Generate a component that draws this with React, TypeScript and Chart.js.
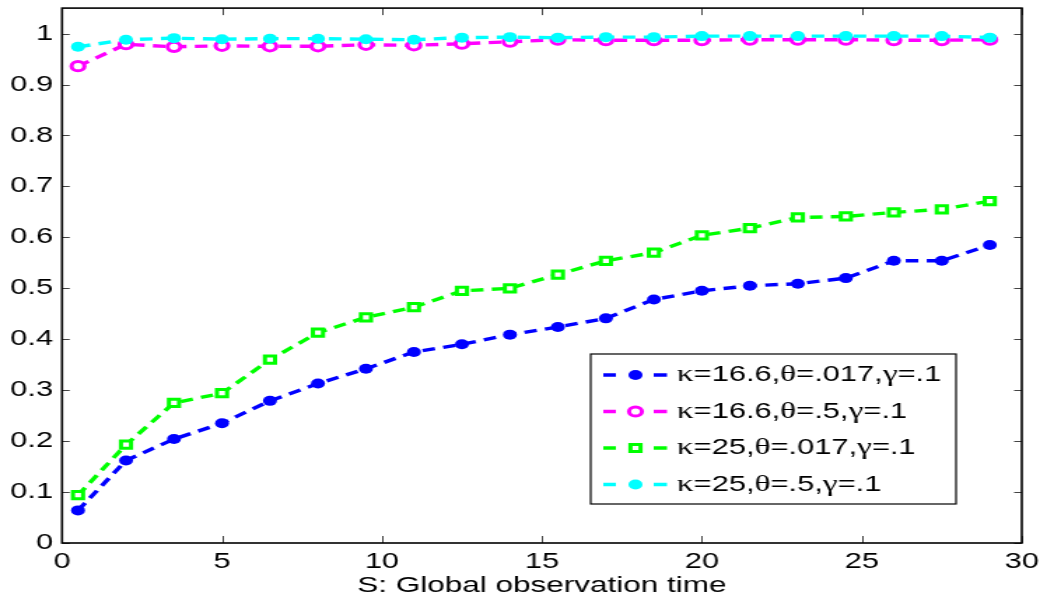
import React, { useEffect, useRef } from 'react';
import { Chart, registerables } from 'chart.js';

Chart.register(...registerables);

// Observation times (S)
const X_VALUES = [0.5, 2, 3.5, 5, 6.5, 8, 9.5, 11, 12.5, 14, 15.5, 17, 18.5, 20, 21.5, 23, 24.5, 26, 27.5, 29];

// κ=16.6, θ=.017, γ=.1
const SERIES_K166_T017 = [0.064, 0.162, 0.204, 0.235, 0.279, 0.313, 0.342, 0.375, 0.39, 0.409, 0.424, 0.441, 0.478, 0.495, 0.505, 0.509, 0.52, 0.554, 0.554, 0.585];
// κ=16.6, θ=.5, γ=.1
const SERIES_K166_T5 = [0.936, 0.979, 0.974, 0.976, 0.975, 0.975, 0.978, 0.977, 0.98, 0.984, 0.988, 0.987, 0.987, 0.987, 0.988, 0.988, 0.988, 0.987, 0.987, 0.988];
// κ=25, θ=.017, γ=.1
const SERIES_K25_T017 = [0.094, 0.193, 0.275, 0.294, 0.36, 0.413, 0.443, 0.463, 0.495, 0.5, 0.527, 0.554, 0.57, 0.604, 0.618, 0.639, 0.641, 0.649, 0.655, 0.671];
// κ=25, θ=.5, γ=.1
const SERIES_K25_T5 = [0.974, 0.988, 0.991, 0.989, 0.99, 0.99, 0.989, 0.988, 0.992, 0.993, 0.992, 0.993, 0.993, 0.995, 0.995, 0.995, 0.995, 0.995, 0.995, 0.992];

const SERIES_LABELS = ['κ=16.6,θ=.017,γ=.1', 'κ=16.6,θ=.5,γ=.1', 'κ=25,θ=.017,γ=.1', 'κ=25,θ=.5,γ=.1'];

const X_TICKS = [0, 5, 10, 15, 20, 25, 30];
const X_TICK_LABELS = ['0', '5', '10', '15', '20', '25', '30'];
const Y_TICKS = [0, 0.1, 0.2, 0.3, 0.4, 0.5, 0.6, 0.7, 0.8, 0.9, 1];
const Y_TICK_LABELS = ['0', '0.1', '0.2', '0.3', '0.4', '0.5', '0.6', '0.7', '0.8', '0.9', '1'];

const X_TITLE = 'S: Global observation time';

// The drawing surface is rendered narrower and stretched horizontally on screen.
const RENDER_W = 748;
const RENDER_H = 599;
const SHOW_W = 1047;
const SHOW_H = 599;

const SANS = '"Liberation Sans", Arial, Helvetica, sans-serif';
const SERIF = '"Liberation Serif", "Times New Roman", serif';

type MarkerKind = 'dot' | 'ring' | 'square';

const STYLES: { color: string; marker: MarkerKind }[] = [
  { color: '#0000ff', marker: 'dot' },
  { color: '#ff00ff', marker: 'ring' },
  { color: '#00ff00', marker: 'square' },
  { color: '#00ffff', marker: 'dot' },
];

const DASH = [9, 6];

function drawMarker(ctx: CanvasRenderingContext2D, kind: MarkerKind, color: string, x: number, y: number) {
  ctx.save();
  ctx.setLineDash([]);
  if (kind === 'dot') {
    ctx.fillStyle = color;
    ctx.beginPath();
    ctx.arc(x, y, 5, 0, Math.PI * 2);
    ctx.fill();
  } else if (kind === 'ring') {
    ctx.strokeStyle = color;
    ctx.lineWidth = 3;
    ctx.fillStyle = '#fff';
    ctx.beginPath();
    ctx.arc(x, y, 4.6, 0, Math.PI * 2);
    ctx.fill();
    ctx.stroke();
  } else {
    ctx.strokeStyle = color;
    ctx.lineWidth = 3;
    ctx.fillStyle = '#fff';
    ctx.beginPath();
    ctx.rect(x - 3.6, y - 3.6, 7.2, 7.2);
    ctx.fill();
    ctx.stroke();
  }
  ctx.restore();
}

// Draws text with Greek letters in a serif face and everything else in sans.
function drawMixedText(ctx: CanvasRenderingContext2D, text: string, x: number, y: number, size: number) {
  let cx = x;
  for (const ch of text) {
    const greek = /[\u0370-\u03ff]/.test(ch);
    ctx.font = `${greek ? size + 2 : size}px ${greek ? SERIF : SANS}`;
    ctx.fillText(ch, cx, y);
    cx += ctx.measureText(ch).width;
  }
}

const framePlugin = {
  id: 'matlabFrame',
  afterDatasetsDraw(chart: any) {
    const { ctx, chartArea } = chart;
    const { left, right, top, bottom } = chartArea;
    const xs = chart.scales.x;
    const ys = chart.scales.y;
    ctx.save();
    ctx.setLineDash([]);
    // inward tick marks on all four sides
    ctx.strokeStyle = '#444';
    ctx.lineWidth = 1;
    ctx.beginPath();
    for (const v of X_TICKS) {
      const px = Math.round(xs.getPixelForValue(v)) + 0.5;
      ctx.moveTo(px, bottom);
      ctx.lineTo(px, bottom - 7);
      ctx.moveTo(px, top);
      ctx.lineTo(px, top + 7);
    }
    for (const v of Y_TICKS) {
      const py = Math.round(ys.getPixelForValue(v)) + 0.5;
      ctx.moveTo(left, py);
      ctx.lineTo(left + 5.5, py);
      ctx.moveTo(right, py);
      ctx.lineTo(right - 5.5, py);
    }
    ctx.stroke();
    // box
    ctx.strokeStyle = '#000';
    ctx.lineWidth = 1.6;
    ctx.strokeRect(left, top, right - left, bottom - top);
    ctx.restore();
  },
  afterDraw(chart: any) {
    const { ctx } = chart;
    const boxL = 422;
    const boxT = 354;
    const boxR = 683;
    const boxB = 504;
    ctx.save();
    ctx.fillStyle = '#fff';
    ctx.fillRect(boxL, boxT, boxR - boxL, boxB - boxT);
    ctx.strokeStyle = '#000';
    ctx.lineWidth = 1.2;
    ctx.strokeRect(boxL, boxT, boxR - boxL, boxB - boxT);
    const rows = [375, 411.5, 448, 484.5];
    chart.data.datasets.forEach((ds: any, i: number) => {
      const st = STYLES[i];
      const y = rows[i];
      ctx.strokeStyle = st.color;
      ctx.lineWidth = 3.4;
      ctx.setLineDash([]);
      ctx.beginPath();
      ctx.moveTo(431, y);
      ctx.lineTo(440, y);
      ctx.moveTo(467, y);
      ctx.lineTo(476.5, y);
      ctx.stroke();
      drawMarker(ctx, st.marker, st.color, 454, y);
      ctx.fillStyle = '#000';
      ctx.textBaseline = 'middle';
      ctx.textAlign = 'left';
      drawMixedText(ctx, ds.label, 483.5, y, 22);
    });
    ctx.restore();
  },
};

function pointStyleFor(kind: MarkerKind) {
  return kind === 'square' ? 'rect' : 'circle';
}

export default function App() {
  const canvasRef = useRef<HTMLCanvasElement | null>(null);

  useEffect(() => {
    document.body.style.margin = '0';
    const canvas = canvasRef.current;
    if (!canvas) return;

    const seriesList = [SERIES_K166_T017, SERIES_K166_T5, SERIES_K25_T017, SERIES_K25_T5];
    const drawOrder = [4, 3, 2, 1];

    const datasets = seriesList.map((values, i) => {
      const st = STYLES[i];
      const hollow = st.marker !== 'dot';
      return {
        label: SERIES_LABELS[i],
        data: X_VALUES.map((x, j) => ({ x, y: values[j] })),
        borderColor: st.color,
        backgroundColor: st.color,
        borderWidth: 3.4,
        borderDash: DASH,
        fill: false,
        tension: 0,
        order: drawOrder[i],
        pointStyle: pointStyleFor(st.marker),
        pointRadius: st.marker === 'square' ? 5.1 : st.marker === 'ring' ? 4.6 : 5,
        pointBorderWidth: hollow ? 3 : 0,
        pointBorderColor: st.color,
        pointBackgroundColor: hollow ? '#ffffff' : st.color,
        pointHoverRadius: 5,
      };
    });

    const chart = new Chart(canvas, {
      type: 'line',
      data: { datasets },
      options: {
        animation: false,
        responsive: false,
        maintainAspectRatio: false,
        devicePixelRatio: 1,
        layout: { padding: { top: 4.3, right: 18, left: 0, bottom: 0 } },
        plugins: {
          legend: { display: false },
          tooltip: { enabled: false },
        },
        scales: {
          x: {
            type: 'linear',
            min: 0,
            max: 30,
            grid: { display: false, drawTicks: false },
            border: { display: false },
            afterBuildTicks: (scale: any) => {
              scale.ticks = X_TICKS.map((v) => ({ value: v }));
            },
            afterFit: (scale: any) => {
              scale.height = 56;
              scale.paddingLeft = 0;
              scale.paddingRight = 0;
            },
            ticks: {
              autoSkip: false,
              maxRotation: 0,
              padding: 6,
              color: '#000',
              font: { family: SANS, size: 22 },
              callback: (_v: any, idx: number) => X_TICK_LABELS[idx],
            },
            title: {
              display: true,
              text: X_TITLE,
              color: '#000',
              font: { family: SANS, size: 22.5 },
              padding: { top: 0, bottom: 0 },
            },
          },
          y: {
            type: 'linear',
            min: 0,
            max: 1.05,
            grid: { display: false, drawTicks: false },
            border: { display: false },
            afterBuildTicks: (scale: any) => {
              scale.ticks = Y_TICKS.map((v) => ({ value: v }));
            },
            afterFit: (scale: any) => {
              scale.width = 44.3;
              scale.paddingTop = 0;
              scale.paddingBottom = 0;
            },
            ticks: {
              autoSkip: false,
              padding: 6.4,
              color: '#000',
              font: { family: SANS, size: 22 },
              callback: (_v: any, idx: number) => Y_TICK_LABELS[idx],
            },
          },
        },
      },
      plugins: [framePlugin],
    } as any);

    return () => {
      chart.destroy();
    };
  }, []);

  return (
    <canvas
      ref={canvasRef}
      width={RENDER_W}
      height={RENDER_H}
      style={{ width: `${SHOW_W}px`, height: `${SHOW_H}px`, display: 'block' }}
    />
  );
}
